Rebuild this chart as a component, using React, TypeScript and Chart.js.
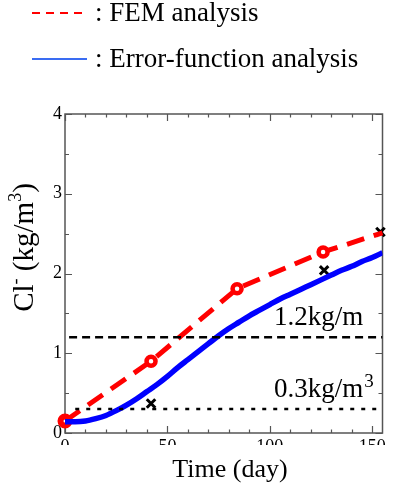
import React, { useEffect, useRef } from 'react';
import { Chart, registerables } from 'chart.js';
Chart.register(...registerables);

// ---- data ----
const erfDays = [0, 5, 10, 15, 20, 25, 30, 35, 40, 45, 50, 55, 60, 65, 70, 75, 80, 85, 90, 95, 100, 105, 110, 115, 120, 125, 130, 135, 140, 145, 150, 155];
const erfValues = [0.14, 0.14, 0.15, 0.18, 0.22, 0.28, 0.35, 0.43, 0.52, 0.61, 0.71, 0.82, 0.92, 1.02, 1.12, 1.22, 1.31, 1.39, 1.47, 1.54, 1.61, 1.68, 1.74, 1.80, 1.86, 1.92, 1.98, 2.04, 2.09, 2.15, 2.20, 2.26];
const femDays = [0, 42, 84, 126, 155];
const femValues = [0.15, 0.9, 1.81, 2.27, 2.51];
const measuredDays = [42, 126.5, 154];
const measuredValues = [0.37, 2.04, 2.52];
const limitHighDays = [2, 155];
const limitHighValue = 1.2;
const limitLowDays = [5, 155];
const limitLowValue = 0.3;
const xTickValues = [0, 50, 100, 150];
const yTickValues = [0, 1, 2, 3, 4];
const xMinorStep = 10;
const yMinorStep = 0.5;
const xMax = 155;
const yMax = 4;
const legendLabels = [': FEM analysis', ': Error-function analysis'];
const xTitle = 'Time (day)';
const highLabel = '1.2kg/m';
const lowLabel = '0.3kg/m';

const SERIF = '"Liberation Serif", "Times New Roman", serif';

const overlayPlugin = {
  id: 'overlay',
  beforeDatasetsDraw(chart: any) {
    const { ctx, chartArea: a, scales } = chart;
    const xs = scales.x, ys = scales.y;
    ctx.save();
    ctx.strokeStyle = '#555';
    ctx.lineWidth = 1.5;
    ctx.strokeRect(a.left, a.top, a.right - a.left, a.bottom - a.top);
    ctx.lineWidth = 1.2;
    ctx.beginPath();
    for (let v = 0; v <= xMax + 1e-9; v += xMinorStep) {
      const px = Math.round(xs.getPixelForValue(v)) + 0.5;
      const len = v % 50 === 0 ? 7 : 3.5;
      ctx.moveTo(px, a.bottom); ctx.lineTo(px, a.bottom - len);
      ctx.moveTo(px, a.top); ctx.lineTo(px, a.top + len);
    }
    for (let v = 0; v <= yMax + 1e-9; v += yMinorStep) {
      const py = Math.round(ys.getPixelForValue(v)) + 0.5;
      const len = Number.isInteger(v) ? 7 : 4;
      ctx.moveTo(a.left, py); ctx.lineTo(a.left + len, py);
      ctx.moveTo(a.right, py); ctx.lineTo(a.right - len, py);
    }
    ctx.stroke();
    ctx.restore();
  },
  afterDraw(chart: any) {
    const { ctx, scales } = chart;
    const xs = scales.x, ys = scales.y;
    ctx.save();
    // mask lower half of x tick labels
    ctx.fillStyle = '#fff';
    ctx.fillRect(40, 445, 353, 12);

    ctx.fillStyle = '#000';
    ctx.textBaseline = 'alphabetic';
    // x title
    ctx.font = `26px ${SERIF}`;
    ctx.textAlign = 'center';
    ctx.fillText(xTitle, 230, 477);

    // y title with superscripts
    ctx.save();
    ctx.translate(33, 247.5);
    ctx.rotate(-Math.PI / 2);
    ctx.textAlign = 'left';
    const big = `29px ${SERIF}`, small = `18px ${SERIF}`;
    const parts: [string, string, number][] = [
      ['Cl', big, 0], ['-', small, -12], [' (kg/m', big, 0], ['3', small, -12], [')', big, 0],
    ];
    let total = 0;
    for (const [t, f] of parts) { ctx.font = f; total += ctx.measureText(t).width; }
    let cx = -total / 2;
    for (const [t, f, dy] of parts) { ctx.font = f; ctx.fillText(t, cx, dy); cx += ctx.measureText(t).width; }
    ctx.restore();

    // annotations
    ctx.textAlign = 'left';
    ctx.font = `27px ${SERIF}`;
    const ax = xs.getPixelForValue(102);
    ctx.fillText(highLabel, ax, ys.getPixelForValue(1.35));
    const lowY = ys.getPixelForValue(0.45);
    ctx.fillText(lowLabel, ax, lowY);
    const w = ctx.measureText(lowLabel).width;
    ctx.font = `19px ${SERIF}`;
    ctx.fillText('3', ax + w + 1, lowY - 10);

    // legend
    ctx.lineWidth = 2;
    ctx.strokeStyle = '#ff0000';
    ctx.setLineDash([8, 6]);
    ctx.beginPath(); ctx.moveTo(32, 13); ctx.lineTo(82, 13); ctx.stroke();
    ctx.setLineDash([]);
    ctx.strokeStyle = '#3a6cf2';
    ctx.beginPath(); ctx.moveTo(32, 59); ctx.lineTo(87, 59); ctx.stroke();
    ctx.font = `27px ${SERIF}`;
    ctx.fillStyle = '#000';
    ctx.fillText(legendLabels[0], 95, 21);
    ctx.fillText(legendLabels[1], 95, 67);
    ctx.restore();
  },
};

export default function App() {
  const ref = useRef<HTMLCanvasElement>(null);
  useEffect(() => {
    if (!ref.current) return;
    const pts = (xs: number[], ys: number[]) => xs.map((x, i) => ({ x, y: ys[i] }));
    const chart = new Chart(ref.current, {
      type: 'line',
      data: {
        datasets: [
          {
            data: limitHighDays.map((x) => ({ x, y: limitHighValue })),
            borderColor: '#000', borderWidth: 2.5, borderDash: [8, 5], pointRadius: 0, tension: 0,
          },
          {
            data: limitLowDays.map((x) => ({ x, y: limitLowValue })),
            borderColor: '#000', borderWidth: 2.5, borderDash: [4, 7], pointRadius: 0, tension: 0,
          },
          {
            data: pts(erfDays, erfValues),
            borderColor: '#0000ff', borderWidth: 5.5, pointRadius: 0, cubicInterpolationMode: 'monotone',
          },
          {
            data: pts(femDays, femValues),
            borderColor: '#ff0000', borderWidth: 5, borderDash: [18, 10], tension: 0,
            pointRadius: (c: any) => (c.dataIndex < femDays.length - 1 ? 4.5 : 0),
            pointBorderWidth: (c: any) => (c.dataIndex === 0 ? 6 : 4.5),
            pointBackgroundColor: '#fff', pointBorderColor: '#ff0000',
            clip: false,
          },
          {
            data: pts(measuredDays, measuredValues),
            showLine: false, pointStyle: 'crossRot', pointRadius: 6, pointBorderWidth: 3,
            pointBorderColor: '#000', borderColor: '#000', clip: false,
          },
        ] as any,
      },
      options: {
        animation: false,
        responsive: false,
        events: [],
        layout: { padding: { top: 114, right: 6, left: 0, bottom: 0 } },
        plugins: { legend: { display: false }, tooltip: { enabled: false } },
        scales: {
          x: {
            type: 'linear', min: 0, max: xMax,
            grid: { display: false, drawTicks: false },
            border: { display: false },
            afterBuildTicks: (s: any) => { s.ticks = xTickValues.map((v) => ({ value: v })); },
            afterFit: (s: any) => { s.height = 52; },
            ticks: { padding: 3, color: '#000', font: { family: SERIF, size: 18 }, maxRotation: 0, autoSkip: false },
          },
          y: {
            type: 'linear', min: 0, max: yMax,
            grid: { display: false, drawTicks: false },
            border: { display: false },
            afterBuildTicks: (s: any) => { s.ticks = yTickValues.map((v) => ({ value: v })); },
            afterFit: (s: any) => { s.width = 65; },
            ticks: { padding: 3, color: '#000', font: { family: SERIF, size: 18 } },
          },
        },
      } as any,
      plugins: [overlayPlugin],
    });
    return () => chart.destroy();
  }, []);
  return (
    <div style={{ position: 'fixed', left: 0, top: 0, width: 393, height: 485, background: '#fff' }}>
      <canvas ref={ref} width={393} height={485} style={{ display: 'block' }} />
    </div>
  );
}
